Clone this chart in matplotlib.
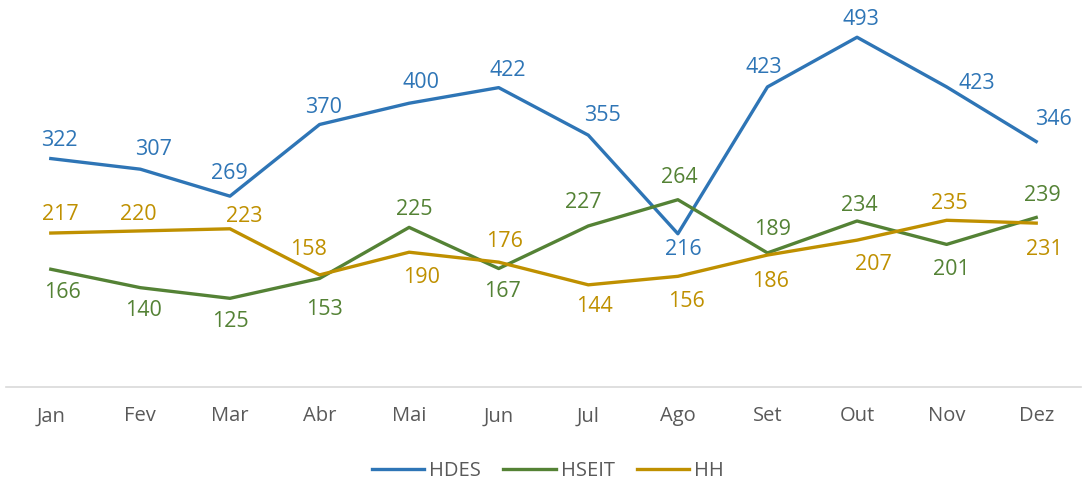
import matplotlib
matplotlib.use('Agg')
import matplotlib.pyplot as plt

months = ["Jan", "Fev", "Mar", "Abr", "Mai", "Jun", "Jul", "Ago", "Set", "Out", "Nov", "Dez"]

hdes = [322, 307, 269, 370, 400, 422, 355, 216, 423, 493, 423, 346]
hseit = [166, 140, 125, 153, 225, 167, 227, 264, 189, 234, 201, 239]
hh = [217, 220, 223, 158, 190, 176, 144, 156, 186, 207, 235, 231]

# data label nudges in pixels (dx right, dy down), as placed in the original
hdes_lbl = [(9, -20), (13, -22), (-1, -25), (4, -19), (12, -23), (9, -19),
            (14, -22), (5, 14), (-4, -22), (4, -20), (30, -6), (17, -24)]
hseit_lbl = [(12, 21), (3, 21), (0, 21), (5, 29), (5, -20), (4, 21),
             (-5, -26), (1, -24), (5, -26), (2, -18), (5, 23), (6, -24)]
hh_lbl = [(10, -21), (-2, -19), (14, -14), (-11, -28), (12, 23), (6, -23),
          (6, 19), (9, 23), (3, 24), (16, 22), (3, -19), (8, 24)]

plt.rcParams['font.family'] = ['Open Sans', 'DejaVu Sans']

fig = plt.figure(figsize=(10.83, 4.83), dpi=100)
ax = fig.add_axes([6 / 1083, 96 / 483, 1075 / 1083, 376 / 483])

series = [
    ("HDES", hdes, hdes_lbl, "#2E75B6"),
    ("HSEIT", hseit, hseit_lbl, "#548235"),
    ("HH", hh, hh_lbl, "#BF9000"),
]

fs = 15.5
half_cap = fs / 72 * 100 * 0.714 / 2

x = list(range(len(months)))
for name, vals, lbl, col in series:
    ax.plot(x, vals, color=col, lw=2.4, label=name)
    for xi, v, (dx, dy) in zip(x, vals, lbl):
        ax.annotate(str(v), (xi, v), xytext=(dx, -dy - half_cap), textcoords='offset pixels',
                    ha='center', va='baseline', color=col, fontsize=fs,
                    annotation_clip=False)

ax.set_xlim(-0.5, 11.5)
ax.set_ylim(0, 530)
ax.set_xticks(x)
ax.set_xticklabels(months, fontsize=14.5, color="#595959")
ax.tick_params(axis='x', length=0, pad=14)
ax.set_yticks([])
for s in ['top', 'right', 'left']:
    ax.spines[s].set_visible(False)
ax.spines['bottom'].set_color("#D9D9D9")
ax.spines['bottom'].set_linewidth(1.2)

leg = fig.legend(loc='center', bbox_to_anchor=(548 / 1083, 1 - 471 / 483), ncol=3, frameon=False,
                 fontsize=14.5, handlelength=2.6, handletextpad=0.25, columnspacing=1.1)
for t in leg.get_texts():
    t.set_color("#595959")
for h in leg.get_lines():
    h.set_linewidth(2.4)

fig.savefig("out.png", dpi=100)
